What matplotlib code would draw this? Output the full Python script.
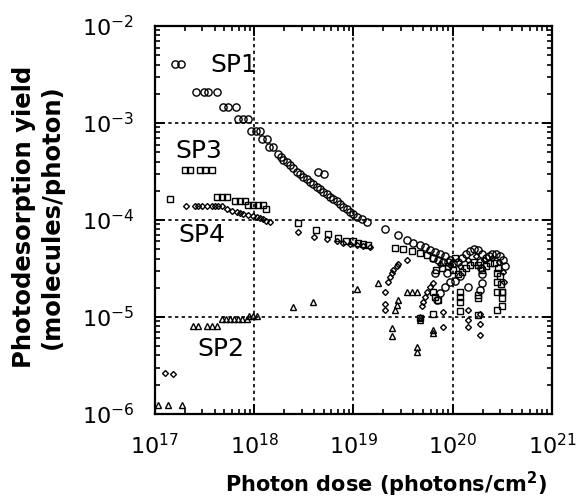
import matplotlib
matplotlib.use('Agg')
from matplotlib import pyplot as plt
from matplotlib.ticker import LogLocator, NullFormatter

plt.rcParams['font.family'] = ['DejaVu Sans']
plt.rcParams['mathtext.default'] = 'regular'

# SP1 (circles)
sp1_dose = [1.6e17, 1.85e17, 2.6e17, 3.1e17, 3.4e17, 4.2e17, 4.9e17, 5.5e17, 6.5e17,
            6.9e17, 7.8e17, 8.7e17, 9.3e17, 1.05e18, 1.15e18, 1.2e18, 1.35e18, 1.4e18, 1.55e18,
            1.75e18, 1.86e18, 1.96e18, 2.14e18, 2.29e18, 2.46e18, 2.68e18, 2.89e18, 3.12e18,
            3.38e18, 3.64e18, 3.94e18, 4.25e18, 4.6e18, 4.96e18, 5.37e18, 5.8e18, 6.25e18,
            6.8e18, 7.31e18, 7.9e18, 8.54e18, 9.2e18, 9.95e18, 1.08e19, 1.21e19, 1.36e19,
            4.4e18, 5.0e18,
            2.07e19, 2.82e19, 3.43e19, 4.0e19, 4.68e19, 5.25e19, 5.9e19, 6.6e19, 7.4e19, 8.4e19, 9.4e19,
            6.32e19, 7.1e19, 7.98e19, 8.96e19, 1.01e20, 1.13e20, 1.24e20, 1.36e20, 1.49e20, 1.64e20,
            1.8e20, 1.97e20, 2.16e20, 2.32e20, 2.48e20, 2.73e20, 2.99e20, 3.21e20, 3.36e20,
            1.18e20, 1.88e20, 1.93e20, 1.97e20, 1.95e20, 1.43e20, 6.6e19, 8.7e19, 1.88e20,
            6.89e19, 7.44e19, 8.35e19, 9.38e19, 1.05e20]
sp1_yield = [4.1e-3, 4.1e-3, 2.1e-3, 2.1e-3, 2.1e-3, 2.1e-3, 1.45e-3, 1.45e-3, 1.45e-3,
             1.09e-3, 1.09e-3, 1.09e-3, 8.3e-4, 8.3e-4, 8.3e-4, 6.8e-4, 6.8e-4, 5.6e-4, 5.6e-4,
             4.8e-4, 4.46e-4, 4.2e-4, 3.96e-4, 3.7e-4, 3.4e-4, 3.15e-4, 2.98e-4, 2.8e-4,
             2.65e-4, 2.48e-4, 2.35e-4, 2.2e-4, 2.09e-4, 1.96e-4, 1.85e-4, 1.74e-4, 1.65e-4,
             1.55e-4, 1.46e-4, 1.37e-4, 1.3e-4, 1.22e-4, 1.15e-4, 1.08e-4, 1.02e-4, 9.6e-5,
             3.15e-4, 3.0e-4,
             8.0e-5, 7.0e-5, 6.2e-5, 5.8e-5, 5.5e-5, 5.2e-5, 4.9e-5, 4.7e-5, 4.46e-5, 4.2e-5, 3.9e-5,
             4.06e-5, 3.87e-5, 3.69e-5, 3.69e-5, 3.61e-5, 3.69e-5, 4.06e-5, 4.46e-5, 4.79e-5, 5.02e-5,
             4.91e-5, 4.46e-5, 4.06e-5, 4.26e-5, 4.46e-5, 4.46e-5, 4.26e-5, 3.87e-5, 3.36e-5,
             2.65e-5, 3.69e-5, 3.2e-5, 2.78e-5, 2.22e-5, 2.05e-5, 2.83e-5, 2.83e-5, 1.88e-5,
             1.5e-5, 1.75e-5, 2.05e-5, 2.31e-5, 2.37e-5]

# SP3 (squares)
sp3_dose = [1.42e17, 2.0e17, 2.25e17, 2.84e17, 3.19e17, 3.72e17,
            4.18e17, 4.7e17, 5.27e17, 6.4e17, 7.2e17, 8.1e17, 8.7e17, 9.8e17, 1.1e18, 1.23e18, 1.31e18,
            2.78e18, 4.16e18, 5.57e18, 7.0e18, 8.5e18, 9.96e18, 1.12e19, 1.26e19, 1.41e19,
            2.62e19, 3.18e19, 3.86e19, 4.68e19, 5.47e19, 6.37e19, 1.05e20,
            6.78e19, 7.8e19, 8.96e19, 1.01e20, 1.13e20, 1.24e20, 1.36e20, 1.49e20, 1.64e20,
            1.8e20, 1.97e20, 2.16e20, 2.37e20, 2.6e20, 2.86e20, 2.99e20, 3.06e20, 3.13e20,
            1.18e20, 1.18e20, 1.18e20, 1.18e20, 1.81e20, 1.81e20, 1.81e20,
            2.77e20, 2.77e20, 2.77e20, 2.77e20, 3.11e20, 3.11e20, 3.11e20,
            6.37e19, 6.6e19, 4.68e19, 6.37e19, 7.1e19]
sp3_yield = [1.63e-4, 3.27e-4, 3.27e-4, 3.27e-4, 3.27e-4, 3.27e-4,
             1.71e-4, 1.71e-4, 1.71e-4, 1.58e-4, 1.58e-4, 1.58e-4, 1.43e-4, 1.43e-4, 1.43e-4, 1.43e-4, 1.29e-4,
             9.2e-5, 7.9e-5, 7.1e-5, 6.5e-5, 6.1e-5, 6.0e-5, 5.8e-5, 5.7e-5, 5.5e-5,
             5.1e-5, 5.0e-5, 4.83e-5, 4.54e-5, 4.36e-5, 4.03e-5, 4.07e-5,
             3.05e-5, 3.2e-5, 3.36e-5, 3.05e-5, 2.78e-5, 2.91e-5, 3.2e-5, 3.44e-5, 3.69e-5,
             3.44e-5, 3.05e-5, 3.36e-5, 3.61e-5, 3.61e-5, 3.2e-5, 2.65e-5, 2.19e-5, 1.81e-5,
             1.82e-5, 1.62e-5, 1.44e-5, 1.14e-5, 1.69e-5, 1.56e-5, 1.05e-5,
             2.83e-5, 2.31e-5, 1.82e-5, 1.18e-5, 1.82e-5, 1.56e-5, 1.28e-5,
             1.82e-5, 1.62e-5, 9.7e-6, 1.07e-5, 1.5e-5]

# SP4 (diamonds)
sp4_dose = [1.26e17, 1.51e17,
            2.05e17, 2.53e17, 2.73e17, 2.96e17, 3.32e17, 3.72e17, 4.03e17, 4.35e17, 4.7e17,
            5.27e17, 5.93e17, 6.65e17, 7.18e17, 7.76e17, 8.71e17, 9.78e17, 1.06e18, 1.14e18,
            1.23e18, 1.33e18, 1.44e18,
            2.78e18, 4.0e18, 5.37e18, 6.78e18, 7.9e18, 9.2e18, 1.08e19, 1.26e19, 1.47e19,
            3.43e19,
            2.24e19, 2.33e19, 2.43e19, 2.52e19, 2.72e19, 2.83e19,
            2.07e19, 2.07e19, 2.07e19,
            4.87e19, 5.05e19, 5.25e19, 5.47e19, 5.9e19, 6.37e19,
            7.44e19, 9.38e19, 1.18e20, 1.43e20, 1.71e20, 2.07e20, 2.48e20, 2.92e20, 3.21e20, 3.28e20,
            7.9e19, 8.0e19, 1.43e20, 1.43e20, 1.43e20, 1.88e20, 1.88e20, 1.88e20]
sp4_yield = [2.63e-6, 2.57e-6,
             1.39e-4, 1.39e-4, 1.39e-4, 1.39e-4, 1.39e-4, 1.39e-4, 1.39e-4, 1.39e-4, 1.39e-4,
             1.29e-4, 1.25e-4, 1.22e-4, 1.17e-4, 1.15e-4, 1.13e-4, 1.1e-4, 1.08e-4, 1.04e-4,
             1.02e-4, 9.8e-5, 9.5e-5,
             7.5e-5, 6.7e-5, 6.3e-5, 6.1e-5, 5.83e-5, 5.66e-5, 5.5e-5, 5.4e-5, 5.3e-5,
             3.9e-5,
             2.31e-5, 2.6e-5, 2.82e-5, 3.05e-5, 3.36e-5, 3.52e-5,
             1.82e-5, 1.36e-5, 1.18e-5,
             1.28e-5, 1.44e-5, 1.62e-5, 1.82e-5, 2.05e-5, 2.22e-5,
             3.52e-5, 3.44e-5, 3.36e-5, 3.87e-5, 4.26e-5, 3.87e-5, 4.06e-5, 3.69e-5, 2.91e-5, 2.3e-5,
             7.9e-6, 1.13e-5, 1.18e-5, 9.3e-6, 7.9e-6, 1.07e-5, 8.5e-6, 6.5e-6]

# SP2 (triangles)
sp2_dose = [1.08e17, 1.36e17, 1.86e17,
            2.43e17, 2.73e17, 3.32e17, 3.72e17, 4.18e17,
            4.7e17, 5.19e17, 5.7e17, 6.25e17, 6.86e17, 7.53e17, 8.4e17,
            8.9e17, 9.8e17, 1.07e18,
            2.48e18, 3.94e18, 1.08e19, 1.75e19,
            2.46e19, 2.46e19, 2.62e19, 2.72e19, 2.83e19,
            3.43e19, 3.86e19, 4.4e19,
            4.4e19, 4.4e19, 4.68e19, 4.68e19, 6.37e19, 6.37e19]
sp2_yield = [1.24e-6, 1.24e-6, 1.24e-6,
             8.07e-6, 8.07e-6, 8.07e-6, 8.07e-6, 8.07e-6,
             9.46e-6, 9.46e-6, 9.46e-6, 9.46e-6, 9.46e-6, 9.46e-6, 9.46e-6,
             1.01e-5, 1.01e-5, 1.01e-5,
             1.26e-5, 1.44e-5, 1.93e-5, 2.22e-5,
             7.6e-6, 6.4e-6, 1.18e-5, 1.33e-5, 1.5e-5,
             1.82e-5, 1.82e-5, 1.82e-5,
             4.94e-6, 4.38e-6, 1.0e-5, 9.3e-6, 7.3e-6, 6.8e-6]

labels = ['SP1', 'SP3', 'SP4', 'SP2']
label_pos = [(3.58e17, 3.96e-3), (1.59e17, 5.14e-4), (1.71e17, 7.0e-5), (2.65e17, 4.68e-6)]

fig = plt.figure(figsize=(5.78, 5.01), dpi=100)
ax = fig.add_axes([0.268, 0.174, 0.687, 0.774])

mk = dict(ls='', mfc='none', mec='black', mew=1.0)
ax.plot(sp1_dose, sp1_yield, marker='o', ms=5.2, **mk)
ax.plot(sp3_dose, sp3_yield, marker='s', ms=4.5, **mk)
ax.plot(sp4_dose, sp4_yield, marker='D', ms=3.0, **mk)
ax.plot(sp2_dose, sp2_yield, marker='^', ms=4.6, **mk)

for txt, (x, y) in zip(labels, label_pos):
    ax.text(x, y, txt, fontsize=18, ha='left', va='center')

ax.set_xscale('log')
ax.set_yscale('log')
ax.set_xlim(1e17, 1e21)
ax.set_ylim(1e-6, 1e-2)
ax.xaxis.set_major_locator(LogLocator(base=10, numticks=10))
ax.yaxis.set_major_locator(LogLocator(base=10, numticks=10))
ax.xaxis.set_minor_locator(LogLocator(base=10, subs=range(2, 10), numticks=20))
ax.yaxis.set_minor_locator(LogLocator(base=10, subs=range(2, 10), numticks=20))
ax.xaxis.set_minor_formatter(NullFormatter())
ax.yaxis.set_minor_formatter(NullFormatter())

ax.tick_params(which='both', direction='in', top=True, right=True, color='black')
ax.tick_params(which='major', length=7, width=1.4, labelsize=16)
ax.tick_params(which='minor', length=3.5, width=1.2)
ax.tick_params(axis='y', which='major', pad=15)
ax.tick_params(axis='x', which='major', pad=14)
for sp in ax.spines.values():
    sp.set_linewidth(1.6)

ax.grid(which='major', color='black', linestyle=(0, (2, 2)), linewidth=1.2)

fig.text(38 / 578, 1 - 217 / 501, 'Photodesorption yield\n(molecules/photon)',
         rotation=90, ha='center', va='center', multialignment='center',
         fontsize=17.5, fontweight='bold', linespacing=1.25)
fig.text(386 / 578, 1 - 492 / 501, 'Photon dose (photons/cm$^2$)',
         ha='center', va='baseline', fontsize=15, fontweight='bold')

fig.savefig('out.png', dpi=100)
